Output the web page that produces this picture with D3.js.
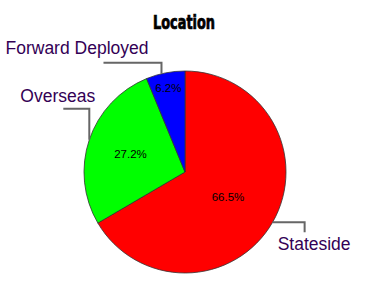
<!DOCTYPE html>
<html><head><meta charset="utf-8">
<script src="https://cdn.jsdelivr.net/npm/d3@7"></script>
<style>html,body{margin:0;padding:0;background:#fff;}</style>
</head><body>
<script>
const categories = ["Stateside", "Overseas", "Forward Deployed"];
const values = [66.5, 27.2, 6.2];
const pctLabels = ["66.5%", "27.2%", "6.2%"];
const colors = ["#ff0000", "#00ff00", "#0000ff"];
const title = "Location";

// layout (not data)
const W = 365, H = 291, cx = 185, cy = 172, R = 101;
const pctRadius = [0.49, 0.57, 0.85];
const leaders = [
  {mode: "h", len: 32, drop: 10, angleShift: 0},
  {mode: "v", len: 31, drop: -26, angleShift: 0},
  {mode: "v", len: 11, drop: -58, angleShift: -0.04}
];

const svg = d3.select("body").append("svg").attr("width", W).attr("height", H);

svg.append("text").attr("x", 184).attr("y", 28.5).attr("text-anchor", "middle")
  .attr("font-family", "'Liberation Sans Narrow', 'DejaVu Sans Condensed', sans-serif")
  .attr("font-weight", "bold").attr("font-size", 19)
  .attr("stroke", "#000").attr("stroke-width", 0.7)
  .attr("textLength", 62).attr("lengthAdjust", "spacingAndGlyphs")
  .text(title);

const pie = d3.pie().sort(null).value(d => d)
  .startAngle(0).endAngle(2 * Math.PI);
const arcs = pie(values);
const arc = d3.arc().innerRadius(0).outerRadius(R);

const g = svg.append("g").attr("transform", `translate(${cx},${cy})`);
g.selectAll("path.slice").data(arcs).join("path")
  .attr("class", "slice")
  .attr("d", arc)
  .attr("fill", (d, i) => colors[i])
  .attr("stroke", "#333").attr("stroke-width", 0.8);

g.selectAll("text.pct").data(arcs).join("text")
  .attr("class", "pct")
  .attr("transform", (d, i) => {
    const a = (d.startAngle + d.endAngle) / 2;
    const r = R * pctRadius[i];
    return `translate(${r * Math.sin(a)},${-r * Math.cos(a) + 4})`;
  })
  .attr("text-anchor", "middle")
  .attr("font-family", "Arial, 'Liberation Sans', sans-serif")
  .attr("font-size", 11.5).attr("fill", "#000")
  .text((d, i) => pctLabels[i]);

arcs.forEach((d, i) => {
  const L = leaders[i];
  const a = (d.startAngle + d.endAngle) / 2 + L.angleShift;
  const px = R * Math.sin(a), py = -R * Math.cos(a);
  let pts;
  if (L.mode === "h") {
    pts = [[px, py], [px + L.len, py], [px + L.len, py + L.drop]];
  } else {
    pts = [[px, py], [px, py - L.len], [px + L.drop, py - L.len]];
  }
  g.append("path").attr("d", d3.line()(pts))
    .attr("fill", "none").attr("stroke", "#666").attr("stroke-width", 2);
  const end = pts[2];
  let tx, ty;
  if (i === 0) { tx = end[0] - 27; ty = end[1] + 18; }
  else if (i === 1) { tx = end[0] - 43; ty = end[1] - 7; }
  else { tx = end[0] - 98; ty = end[1] - 9; }
  g.append("text").attr("x", tx).attr("y", ty)
    .attr("font-family", "Arial, 'Liberation Sans', sans-serif")
    .attr("font-size", 17.5).attr("fill", "#330055")
    .text(categories[i]);
});
</script>
</body></html>
